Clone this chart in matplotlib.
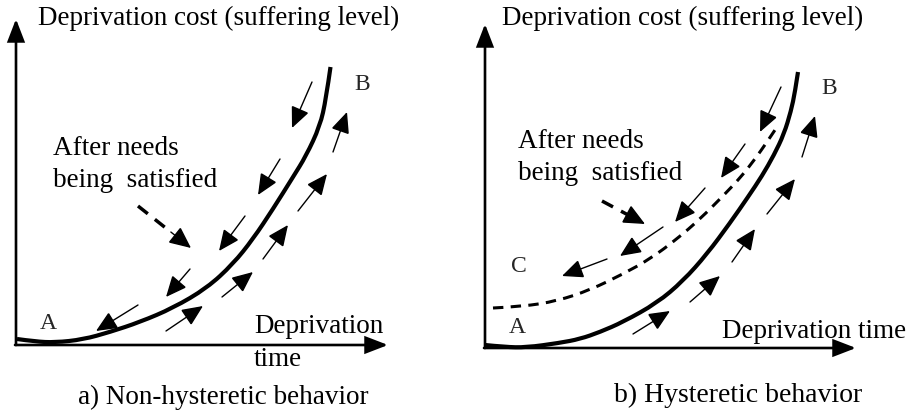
import matplotlib
matplotlib.use("Agg")
import matplotlib.pyplot as plt
from matplotlib.path import Path
from matplotlib.patches import PathPatch

W, H = 909, 414
SERIF = "Liberation Serif"

# ---------------- data (pixel coordinates) ----------------
# Panel a: solid cost curve
curve_a_x = [17, 35, 55, 83, 110, 140, 173, 207, 233, 253, 273, 293, 306, 320, 326, 330.5]
curve_a_y = [340, 342.5, 343.5, 340.5, 333, 323, 309, 289, 265, 240, 210, 178, 157, 127, 100, 68]

# Panel b: solid cost curve and dashed recovery curve
curve_b_x = [485, 505, 526, 559, 580, 600, 623, 657, 683, 707, 730, 748, 762, 774, 784, 791, 795, 798]
curve_b_y = [346, 348, 348.5, 344, 340, 333, 323, 304, 282, 255, 224, 198, 177, 156, 135, 112, 93, 73]
dash_b_x = [493, 523, 557, 590, 623, 650, 677, 700, 723, 741, 755, 767, 777]
dash_b_y = [309, 307.5, 302, 291, 275, 260, 240, 220, 197, 178, 160, 143, 128]

# Small arrows: (tail_x, tail_y, tip_x, tip_y)
arrows_a_down = [(312, 83, 292, 129), (280, 160, 258, 196), (245, 217, 219, 252),
                 (190, 270, 166, 298), (138, 306, 96, 332)]
arrows_a_up = [(166, 332, 203, 307), (222, 298, 253, 273), (263, 260, 288, 226),
               (298, 212, 327, 175), (333, 153, 347, 113)]
arrows_b_down = [(781, 88, 760, 133), (745, 145, 721, 179), (705, 189, 675, 223),
                 (663, 228, 620, 257), (607, 260, 562, 277)]
arrows_b_up = [(633, 335, 670, 312), (690, 303, 720, 277), (732, 263, 755, 230),
               (767, 215, 795, 180), (802, 158, 815, 117)]
dashed_arrows = [(138, 207, 191, 249), (602, 202, 645, 225)]

# Axes (origin_x, origin_y, y_tip, x_tip)
axes_a = (16, 346, 20, 388)
axes_b = (485, 349, 25, 856)

# ---------------- figure ----------------
fig = plt.figure(figsize=(W / 100, H / 100), dpi=100)
ax = fig.add_axes([0, 0, 1, 1])
ax.set_xlim(0, W)
ax.set_ylim(H, 0)
ax.axis("off")


def arrow(tail, tip, lw=1.0, hl=1.3, hw=0.58):
    ax.annotate("", xy=tip, xytext=tail,
                arrowprops=dict(arrowstyle=f"-|>,head_length={hl},head_width={hw}",
                                mutation_scale=10, lw=lw, color="black",
                                shrinkA=0, shrinkB=0, joinstyle="miter"))


def smooth_curve(xs, ys, **kw):
    """Quadratic B-spline style path through the read points (drawn by matplotlib)."""
    pts = list(zip(xs, ys))
    verts = [pts[0]]
    codes = [Path.MOVETO]
    for i in range(1, len(pts) - 1):
        mid = ((pts[i][0] + pts[i + 1][0]) / 2, (pts[i][1] + pts[i + 1][1]) / 2)
        if i == len(pts) - 2:
            mid = pts[-1]
        verts += [pts[i], mid]
        codes += [Path.CURVE3, Path.CURVE3]
    patch = PathPatch(Path(verts, codes), facecolor="none", edgecolor="black", **kw)
    ax.add_patch(patch)


for ox, oy, ytip, xtip in (axes_a, axes_b):
    arrow((ox, oy), (ox, ytip), lw=1.9, hl=1.35, hw=0.52)
    arrow((ox - 1, oy), (xtip, oy), lw=1.9, hl=1.35, hw=0.52)

smooth_curve(curve_a_x, curve_a_y, lw=3.0, capstyle="butt")
smooth_curve(curve_b_x, curve_b_y, lw=3.0, capstyle="butt")
smooth_curve(dash_b_x, dash_b_y, lw=2.2, linestyle=(0, (3.4, 2.4)), capstyle="butt")

for tx, ty, hx, hy in arrows_a_down + arrows_a_up + arrows_b_down + arrows_b_up:
    arrow((tx, ty), (hx, hy), lw=1.0)

for tx, ty, hx, hy in dashed_arrows:
    fx = tx + (hx - tx) * 0.62
    fy = ty + (hy - ty) * 0.62
    ax.plot([tx, fx], [ty, fy], color="black", lw=2.5, linestyle=(0, (3.6, 2.6)), dash_capstyle="butt")
    arrow((fx, fy), (hx, hy), lw=1.0, hl=1.35, hw=0.62)

# ---------------- text ----------------
fs = 19.5
ax.text(38, 18, "Deprivation cost (suffering level)", fontsize=fs, family=SERIF, ha="left", va="center")
ax.text(502, 18, "Deprivation cost (suffering level)", fontsize=fs, family=SERIF, ha="left", va="center")

ax.text(53, 149, "After needs", fontsize=fs, family=SERIF, ha="left", va="center")
ax.text(53, 181, "being  satisfied", fontsize=fs, family=SERIF, ha="left", va="center")
ax.text(518, 142, "After needs", fontsize=fs, family=SERIF, ha="left", va="center")
ax.text(518, 174, "being  satisfied", fontsize=fs, family=SERIF, ha="left", va="center")

ax.text(254, 327, "Deprivation", fontsize=fs, family=SERIF, ha="left", va="center")
ax.text(254, 360, "time", fontsize=fs, family=SERIF, ha="left", va="center")
ax.text(722, 332, "Deprivation time", fontsize=fs, family=SERIF, ha="left", va="center")

ax.text(78, 397, "a) Non-hysteretic behavior", fontsize=fs, family=SERIF, ha="left", va="center")
ax.text(614, 395, "b) Hysteretic behavior", fontsize=fs + 0.5, family=SERIF, ha="left", va="center")

lab_fs = 17
lab_col = "#262626"
ax.text(48, 324, "A", fontsize=lab_fs, family=SERIF, ha="center", va="center", color=lab_col)
ax.text(362, 85, "B", fontsize=lab_fs, family=SERIF, ha="center", va="center", color=lab_col)
ax.text(517, 328, "A", fontsize=lab_fs, family=SERIF, ha="center", va="center", color=lab_col)
ax.text(829, 88, "B", fontsize=lab_fs, family=SERIF, ha="center", va="center", color=lab_col)
ax.text(519, 267, "C", fontsize=lab_fs, family=SERIF, ha="center", va="center", color=lab_col)

fig.savefig("out.png", dpi=100)
